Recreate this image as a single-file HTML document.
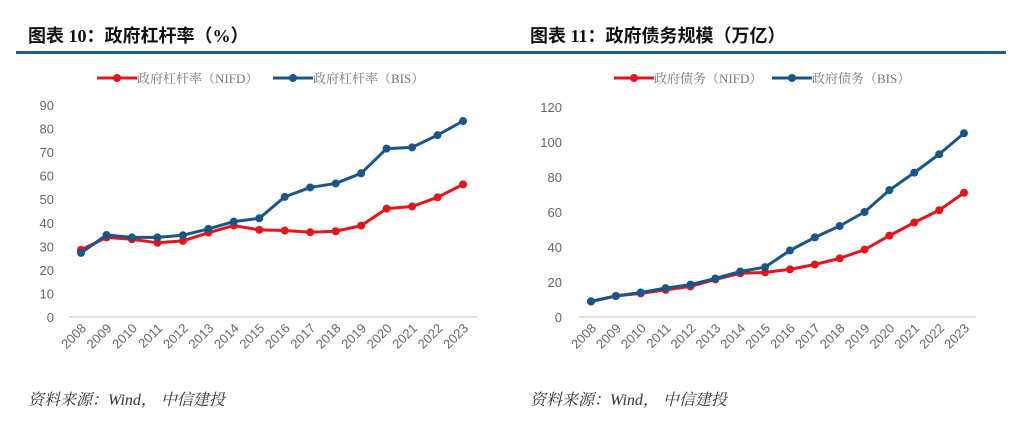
<!DOCTYPE html>
<html><head><meta charset="utf-8"><style>
body{margin:0;background:#fff;width:1024px;height:434px;overflow:hidden}
svg{display:block}
.ttl{font-family:"Liberation Serif","Noto Sans CJK SC",sans-serif;font-weight:bold;font-size:18px;fill:#111}
.tick{font-family:"Liberation Sans",sans-serif;font-size:13px;fill:#666}
.leg{font-family:"Liberation Serif","Noto Serif CJK SC",serif;font-size:13px;fill:#777}
.src{font-family:"Liberation Serif","Noto Serif CJK SC",serif;font-style:italic;font-size:16px;fill:#333}
</style></head><body>
<svg id="c" width="1024" height="434">
<text class="ttl" x="28" y="42">图表 10：政府杠杆率（%）</text>
<rect x="16" y="51" width="496" height="3" fill="#1f5b8c"/>
<text class="ttl" x="530" y="42">图表 11：政府债务规模（万亿）</text>
<rect x="512" y="51" width="494" height="3" fill="#1f5b8c"/>
<text class="src" x="28" y="405">资料来源：Wind， 中信建投</text>
<text class="src" x="530" y="405">资料来源：Wind， 中信建投</text>
</svg>
<script>
const years=["2008","2009","2010","2011","2012","2013","2014","2015","2016","2017","2018","2019","2020","2021","2022","2023"];
const leftTicks=[0,10,20,30,40,50,60,70,80,90];
const leftNIFD=[28.5,33.8,33,31.5,32.3,35.8,38.8,37,36.7,36,36.4,38.8,46,46.9,50.8,56.3];
const leftBIS=[27.2,34.8,33.8,33.8,34.7,37.4,40.5,41.9,51,55,56.7,61,71.5,72,77.2,83.2];
const rightTicks=[0,20,40,60,80,100,120];
const rightNIFD=[8.8,12,13.5,15.5,17.5,21.5,25,25.5,27.2,30,33.5,38.5,46.5,54,61,71];
const rightBIS=[9,12,14,16.5,18.5,22,26,28.5,38,45.5,52,60,72.5,82.5,93,105];
const NS="http://www.w3.org/2000/svg";
const svg=document.getElementById('c');
function mk(t,a){const e=document.createElementNS(NS,t);for(const k in a)e.setAttribute(k,a[k]);svg.appendChild(e);return e;}
function chart(o){
  const x=i=>o.x0+(o.x1-o.x0)*i/(years.length-1);
  const y=v=>o.y0-(o.y0-o.yTop)*v/o.max;
  const ax=mk('line',{x1:o.ax0,x2:o.ax1,y1:o.y0,y2:o.y0,stroke:'#e0e0e0','stroke-width':2});
  
  
  o.ticks.forEach(t=>{const e=mk('text',{x:o.tx,y:y(t)+5,'text-anchor':'end',class:'tick'});e.textContent=t;
    
    });
  years.forEach((yr,i)=>{const e=mk('text',{x:x(i)+6,y:o.y0+12,'text-anchor':'end',class:'tick',transform:`rotate(-45 ${x(i)+6} ${o.y0+12})`});e.textContent=yr;
    
    });
  o.series.forEach(s=>{
    const pl=mk('polyline',{points:s.d.map((v,i)=>x(i)+','+y(v)).join(' '),fill:'none',stroke:s.c,'stroke-width':3,'stroke-linejoin':'round'});
    
    
    s.d.forEach((v,i)=>{const c=mk('circle',{cx:x(i),cy:y(v),r:4,fill:s.c});
      
      });
    const l=mk('line',{x1:s.lx-20,x2:s.lx+20,y1:o.ly,y2:o.ly,stroke:s.c,'stroke-width':3});
    
    
    const m=mk('circle',{cx:s.lx,cy:o.ly,r:4,fill:s.c});
    
    
    const t=mk('text',{x:s.lx+20,y:o.ly+5,class:'leg'});t.textContent=s.label;
    
    
  });
}
chart({p:'left',x0:81,x1:463,ax0:69,ax1:477,y0:317,yTop:105,max:90,ticks:leftTicks,tx:54,ly:78,
  series:[{n:'nifd',d:leftNIFD,c:'#e8141c',lx:117,label:'政府杠杆率（NIFD）'},{n:'bis',d:leftBIS,c:'#1a5587',lx:293,label:'政府杠杆率（BIS）'}]});
chart({p:'right',x0:591,x1:964,ax0:579,ax1:976,y0:317,yTop:107,max:120,ticks:rightTicks,tx:562,ly:78,
  series:[{n:'nifd',d:rightNIFD,c:'#e8141c',lx:634,label:'政府债务（NIFD）'},{n:'bis',d:rightBIS,c:'#1a5587',lx:792,label:'政府债务（BIS）'}]});
</script>
</body></html>
